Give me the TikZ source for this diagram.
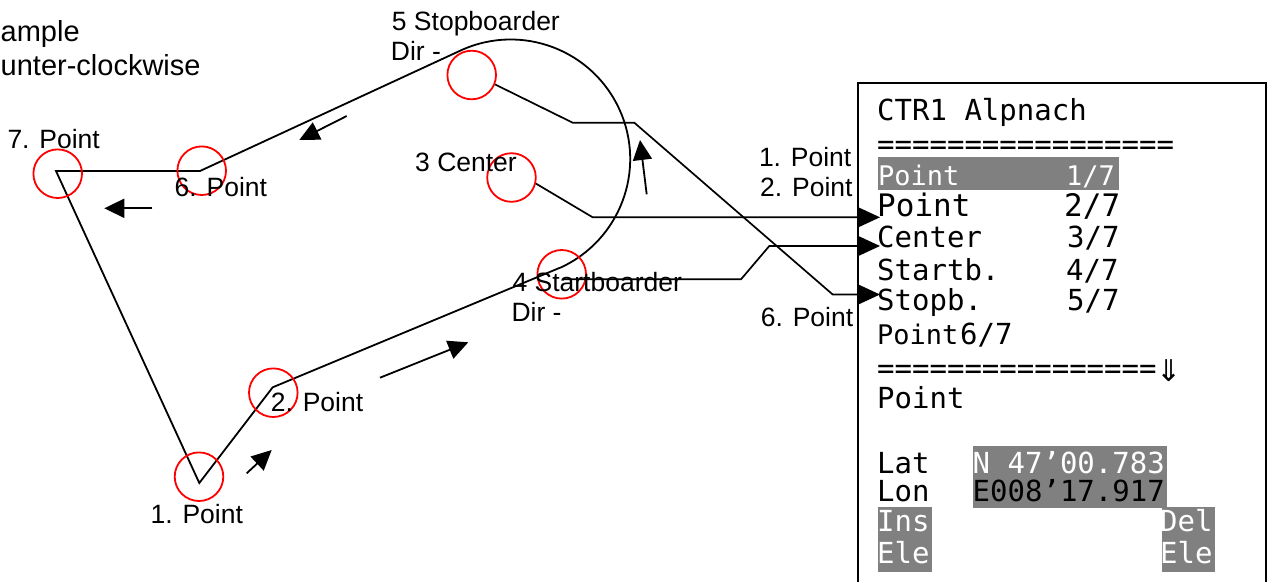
\documentclass[tikz,border=0pt]{standalone}
\usepackage{fontspec}
\setmainfont{Liberation Sans}
\newfontfamily\panelfont{DejaVu Sans Mono}
\newfontfamily\arrowfont{DejaVu Sans}
\usetikzlibrary{arrows.meta}
\definecolor{hlgrey}{RGB}{128,128,128}
\begin{document}
\begin{tikzpicture}[x=1pt,y=-1pt,
  lab/.style={anchor=base west, inner sep=0pt, font=\fontsize{26.5}{30}\selectfont},
  bigt/.style={anchor=base west, inner sep=0pt, font=\fontsize{29}{33}\selectfont},
  mono/.style={anchor=base west, inner sep=0pt, font=\panelfont\fontsize{29}{33}\selectfont},
  monosmall/.style={anchor=base west, inner sep=0pt, font=\panelfont\fontsize{27}{31}\selectfont},
  monobig/.style={anchor=base west, inner sep=0pt, font=\panelfont\fontsize{31}{35}\selectfont},
  ring/.style={circle, draw=red, line width=1.8pt, minimum size=48.6pt, inner sep=0pt},
  track/.style={line width=1.8pt, line join=miter},
  link/.style={line width=1.7pt, -{Triangle[length=21pt,width=19pt]}},
  dirarrow/.style={line width=1.8pt, -{Triangle[length=20pt,width=19pt]}},
  hlbox/.style={fill=hlgrey, draw=none},
  frame/.style={line width=1.8pt}]
\useasboundingbox (0,0) rectangle (1271,581);

% track vertices
\coordinate (p7) at (56,171);
\coordinate (p6) at (200,171);
\coordinate (p5s) at (461.7,50);
\coordinate (p4e) at (560,267.7);
\coordinate (p2) at (272.7,387.3);
\coordinate (p1) at (199.3,483);

\draw[track] (p4e) -- (p2) -- (p1) -- (p7) -- (p6) -- (p5s)
  arc[start angle=-114.2, end angle=65.6, radius=119.5];

% red rings
\node[ring] (c7) at (57.7,173.7) {};
\node[ring] (c6) at (201.7,170.7) {};
\node[ring] (c1) at (199,476.7) {};
\node[ring] (c2) at (273.3,392.7) {};
\node[ring] (c5) at (471.7,75) {};
\node[ring] (c3) at (511.5,177.5) {};
\node[ring] (c4) at (561.7,274.3) {};

% direction arrows
\coordinate (d1s) at (152.3,208.3); \coordinate (d1e) at (104.3,208.3);
\coordinate (d2s) at (346.7,116);   \coordinate (d2e) at (299.3,140);
\coordinate (d3s) at (246.7,473.3); \coordinate (d3e) at (271.7,450);
\coordinate (d4s) at (380,377.7);   \coordinate (d4e) at (468.3,342.3);
\coordinate (d5s) at (646.7,194.3); \coordinate (d5e) at (640,140);
\draw[dirarrow] (d1s) -- (d1e);
\draw[dirarrow] (d2s) -- (d2e);
\draw[dirarrow] (d3s) -- (d3e);
\draw[dirarrow] (d4s) -- (d4e);
\draw[dirarrow] (d5s) -- (d5e);

% labels
\node[bigt] (tA) at (0.5,41.7) {ample};
\node[bigt] (tB) at (0.5,75) {unter-clockwise};
\node[lab] (l7) at (7.3,148.3) {7. Point};
\node[lab] (l6) at (174.5,196) {6. Point};
\node[lab] (l1) at (150.4,523.3) {1. Point};
\node[lab] (l2) at (270.7,411.7) {2. Point};
\node[lab] (l5) at (391.7,30) {5 Stopboarder};
\node[lab] (l5b) at (390.7,60) {Dir -};
\node[lab] (l3) at (415,171.7) {3 Center};
\node[lab] (l4) at (512.3,291.7) {4 Startboarder};
\node[lab] (l4b) at (511.3,321.7) {Dir -};
\node[lab] (r1) at (758.8,166.7) {1. Point};
\node[lab] (r2) at (760,196.7) {2. Point};
\node[lab] (r6) at (760.7,326) {6. Point};

% panel frame
\draw[frame] (858.3,590) -- (858.3,82.7) -- (1266,82.7) -- (1266,590);

% highlight boxes
\fill[hlbox] (878.3,156.7) rectangle (1119.3,190);
\fill[hlbox] (973.3,446) rectangle (1166.7,508.3);
\fill[hlbox] (878.3,506.7) rectangle (931.7,571.7);
\fill[hlbox] (1161.7,506.7) rectangle (1215,571.7);

% panel texts
\node[mono] (title) at (877,120) {CTR1 Alpnach};
\node[mono] (sep1) at (877,154) {=================};
\node[monosmall, text=white] (row1) at (878,185) {Point};
\node[monosmall, text=white] (row1n) at (1066,185) {1/7};
\node[monobig] (row2) at (877,216) {Point};
\node[monobig] (row2n) at (1064,216) {2/7};
\node[mono] (row3) at (877,247.7) {Center};
\node[mono] (row3n) at (1067,247.7) {3/7};
\node[mono] (row4) at (877,280) {Startb.};
\node[mono] (row4n) at (1066,280) {4/7};
\node[mono] (row5) at (877,310.7) {Stopb.};
\node[mono] (row5n) at (1067,310.7) {5/7};
\node[monosmall] (row6) at (877,344) {Point};
\node[mono] (row6n) at (960,344) {6/7};
\node[mono] (sep2) at (877,378) {================\raisebox{-3pt}{\arrowfont\fontsize{30}{33}\selectfont ⇓}};
\node[mono] (cur) at (877,408.3) {Point};
\node[mono] (lat) at (877,473.3) {Lat};
\node[mono, text=white] (latv) at (972.5,473.3) {N 47’00.783};
\node[mono] (lon) at (877,501.7) {Lon};
\node[mono] (lonv) at (972.5,501.7) {E008’17.917};
\node[mono, text=white] (ins1) at (877,531.7) {Ins};
\node[mono, text=white] (ins2) at (877,563.3) {Ele};
\node[mono, text=white] (del1) at (1160,531.7) {Del};
\node[mono, text=white] (del2) at (1160,563.3) {Ele};

% connectors from rings to panel rows
\coordinate (t2) at (row2.west |- 0,217.3);
\coordinate (t3) at (row3.west |- 0,246);
\coordinate (t5) at (row5.west |- 0,294.5);
\coordinate (s4) at (563,279.3);
\draw[link] (c5.-22) -- (572.7,122.7) -- (634.3,122.7) -- (832.7,294.5) -- ([xshift=3pt]t5);
\draw[link] (c3.-14) -- (592.7,217.3) -- ([xshift=3pt]t2);
\draw[link] (s4) -- (741,279.3) -- (769.3,246) -- ([xshift=3pt]t3);
\end{tikzpicture}
\end{document}
